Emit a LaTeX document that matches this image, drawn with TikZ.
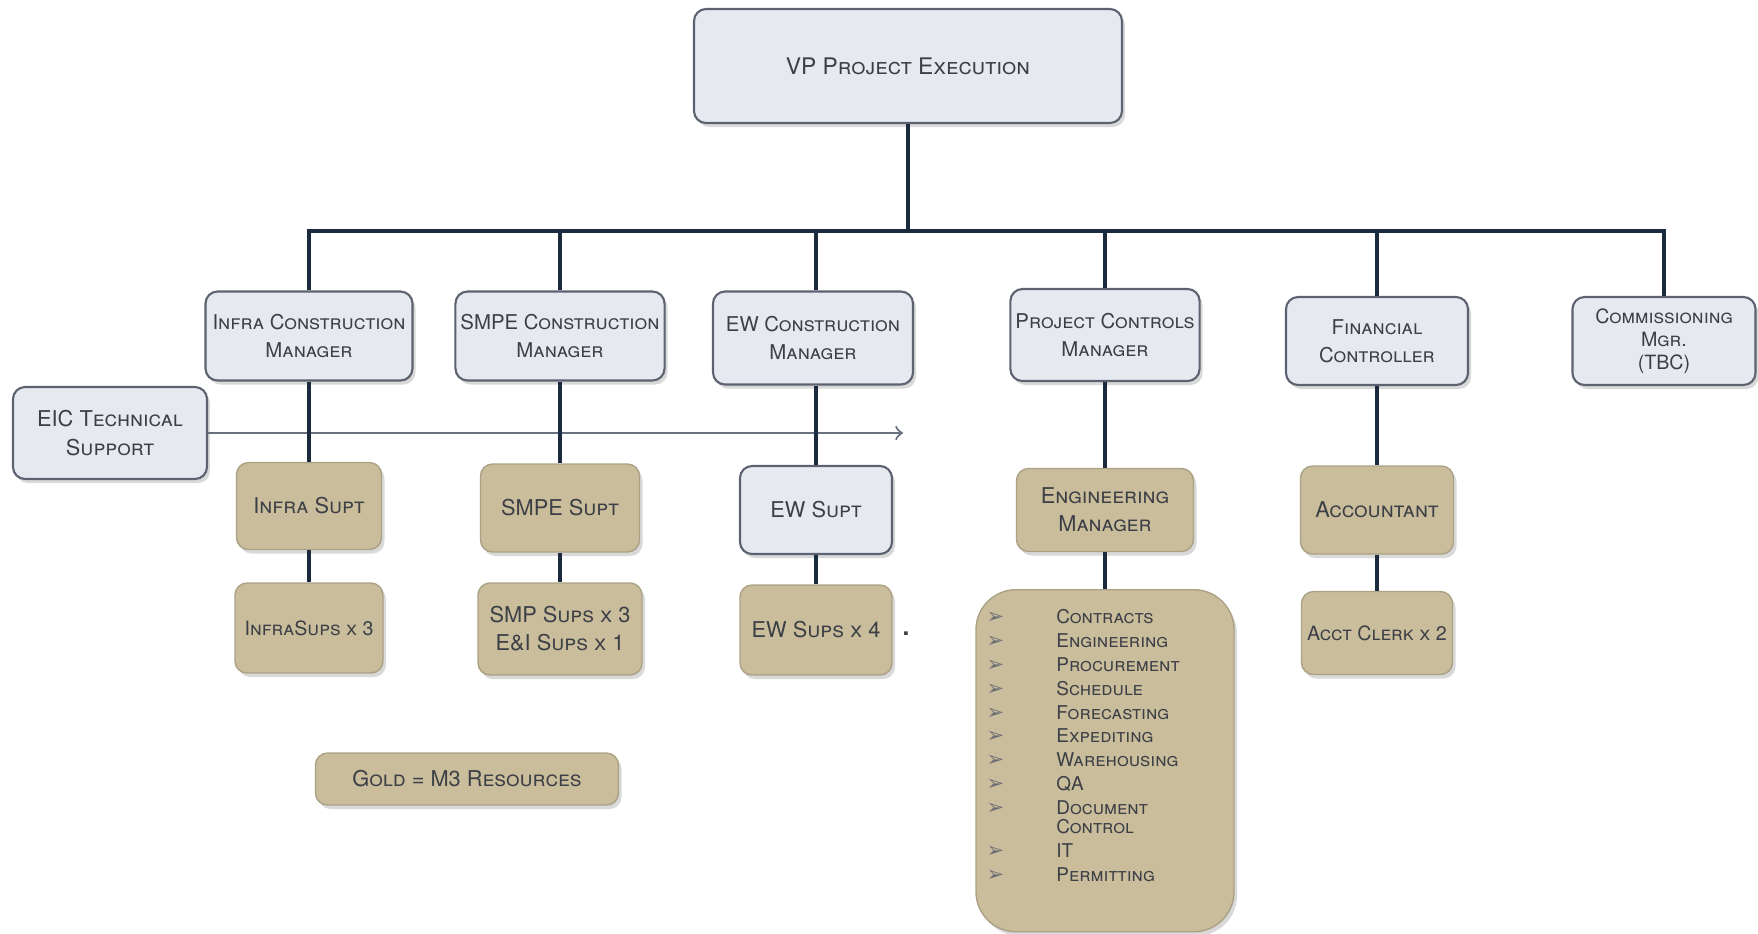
\documentclass[tikz,border=0pt]{standalone}
\usepackage{fontspec}
\setmainfont{TeX Gyre Heros}
\newfontfamily\dingfont{DejaVu Sans}
\usetikzlibrary{shadows,arrows}

\definecolor{boxblue}{HTML}{E7E9F1}
\definecolor{boxline}{HTML}{5C6270}
\definecolor{boxgold}{HTML}{C9BD9C}
\definecolor{linkblue}{HTML}{1C2A3E}
\definecolor{arrowgray}{HTML}{6A7280}
\definecolor{textgray}{HTML}{3C3F46}

\begin{document}
\begin{tikzpicture}[x=0.1mm,y=-0.1mm]
    \newcommand{\itemfont}[0]{\scshape\fontsize{5.4}{6.8}\selectfont}
    \newcommand{\itemmark}[0]{{\dingfont\fontsize{6}{6}\selectfont\color{textgray!75}➢}}
    \tikzstyle{shared}=[
      rounded corners=1.2mm,
      align=center,
      inner sep=0.5mm,
      text=textgray,
      font=\scshape\fontsize{6.2}{8}\selectfont,
      drop shadow={opacity=0.3,shadow xshift=0.3mm,shadow yshift=-0.4mm},
    ]
    \tikzstyle{role}=[
      shared,
      fill=boxblue,
      draw=boxline,
      line width=0.6pt,
    ]
    \tikzstyle{manager}=[
      role,
      font=\scshape\fontsize{5.8}{8}\selectfont,
    ]
    \tikzstyle{resource}=[
      shared,
      fill=boxgold,
      draw=boxgold!85!black,
      line width=0.4pt,
    ]
    \tikzstyle{link}=[line width=1.1pt,draw=linkblue]
    \tikzstyle{support edge}=[->,>=to,line width=0.6pt,draw=arrowgray]

    \useasboundingbox (0,0) rectangle (1758,933);

    \node[role,minimum width=42.8mm,minimum height=11.4mm,
      font=\scshape\fontsize{6.5}{8}\selectfont] (vp) at (908,66) {VP Project Execution};
    \coordinate (bus) at (908,231);

    \node[manager,minimum width=20.7mm,minimum height=8.9mm] (infra mgr) at (309,336) {Infra Construction\\Manager};
    \node[manager,minimum width=20.7mm,minimum height=8.9mm] (smpe mgr) at (560,336) {SMPE Construction\\Manager};
    \node[manager,minimum width=20.0mm,minimum height=9.3mm] (ew mgr) at (813,338) {EW Construction\\Manager};
    \node[manager,minimum width=18.1mm,minimum height=9.2mm] (pc mgr) at (1105,335) {Project Controls\\Manager};
    \node[manager,minimum width=18.2mm,minimum height=8.8mm] (fin mgr) at (1377,341) {Financial\\Controller};
    \node[manager,minimum width=18.3mm,minimum height=8.8mm,
      font=\scshape\fontsize{5.6}{6.6}\selectfont] (comm mgr) at (1664,341) {Commissioning\\Mgr.\\(TBC)};

    \node[role,minimum width=19.4mm,minimum height=9.2mm] (eic) at (110,433) {EIC Technical\\Support};
    \coordinate (support end) at (903,433);

    \node[resource,minimum width=14.5mm,minimum height=8.7mm] (infra supt) at (309,506) {Infra Supt};
    \node[resource,minimum width=15.9mm,minimum height=8.8mm] (smpe supt) at (560,508) {SMPE Supt};
    \node[role,minimum width=15.2mm,minimum height=8.8mm] (ew supt) at (816,510) {EW Supt};
    \node[resource,minimum width=17.7mm,minimum height=8.3mm] (eng mgr) at (1105,510) {Engineering\\Manager};
    \node[resource,minimum width=15.3mm,minimum height=8.8mm] (accountant) at (1377,510) {Accountant};

    \node[resource,minimum width=14.8mm,minimum height=9.0mm,
      font=\scshape\fontsize{5.6}{8}\selectfont] (infra sups) at (309,628) {InfraSups x 3};
    \node[resource,minimum width=16.4mm,minimum height=9.2mm] (smpe sups) at (560,629) {SMP Sups x 3\\E\&I Sups x 1};
    \node[resource,minimum width=15.2mm,minimum height=9.0mm] (ew sups) at (816,630) {EW Sups x 4};
    \node[text=textgray] (stray dot) at (906,634) {.};
    \node[resource,rounded corners=4mm,minimum width=25.8mm,minimum height=34.2mm,
      anchor=north] (eng list) at (1105,589) {};
    \node[text=textgray,inner sep=0pt,anchor=north west,font=\itemfont] (eng items) at (986,606) {%
      \begin{tabular}{@{}l@{\hspace{5.2mm}}l@{}}
        \itemmark & Contracts\\
        \itemmark & Engineering\\
        \itemmark & Procurement\\
        \itemmark & Schedule\\
        \itemmark & Forecasting\\
        \itemmark & Expediting\\
        \itemmark & Warehousing\\
        \itemmark & QA\\
        \itemmark & Document\\[-1.4pt]
                  & Control\\
        \itemmark & IT\\
        \itemmark & Permitting
      \end{tabular}};
    \node[resource,minimum width=15.1mm,minimum height=8.3mm,
      font=\scshape\fontsize{5.6}{8}\selectfont] (clerk) at (1377,633) {Acct Clerk x 2};

    \node[resource,minimum width=30.3mm,minimum height=5.2mm] (legend) at (467,779) {Gold = M3 Resources};

    \draw[support edge] (eic) -- (support end);

    \draw[link] (vp) -- (bus);
    \draw[link] (infra mgr.north) |- (bus) -| (comm mgr.north);
    \draw[link] (smpe mgr.north) -- (smpe mgr.north |- bus);
    \draw[link] (ew mgr.north -| ew supt) -- (ew supt |- bus);
    \draw[link] (pc mgr.north) -- (pc mgr.north |- bus);
    \draw[link] (fin mgr.north) -- (fin mgr.north |- bus);

    \draw[link] (infra mgr) -- (infra supt) -- (infra sups);
    \draw[link] (smpe mgr) -- (smpe supt) -- (smpe sups);
    \draw[link] (ew mgr.south -| ew supt) -- (ew supt) -- (ew sups);
    \draw[link] (pc mgr) -- (eng mgr) -- (eng list);
    \draw[link] (fin mgr) -- (accountant) -- (clerk);
  \end{tikzpicture}
\end{document}
